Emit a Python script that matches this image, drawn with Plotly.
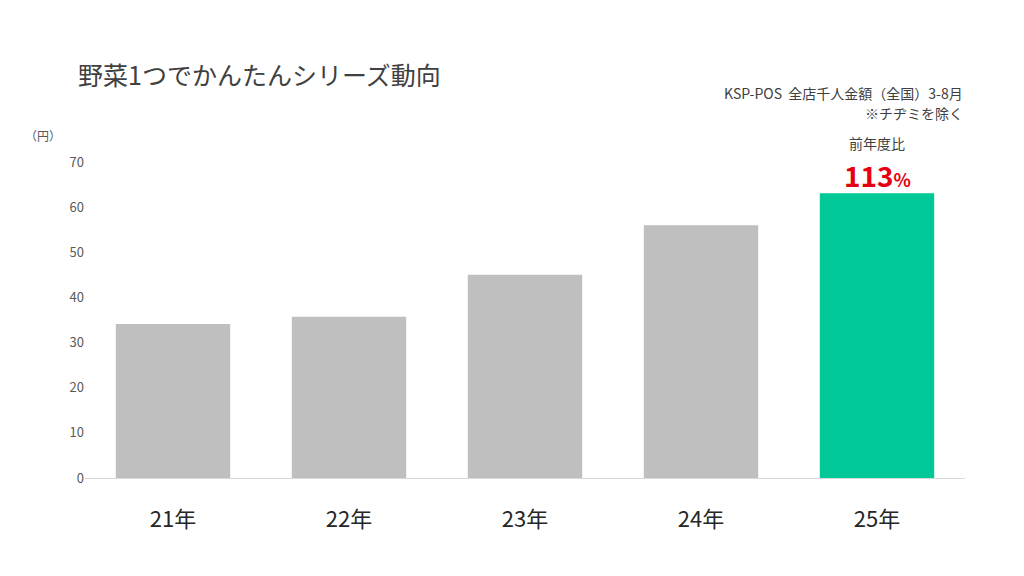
import plotly.graph_objects as go

years = ["21年", "22年", "23年", "24年", "25年"]
values = [34.1, 35.7, 45.0, 56.0, 63.1]
colors = ["#bfbfbf", "#bfbfbf", "#bfbfbf", "#bfbfbf", "#00c896"]
y_ticks = [0, 10, 20, 30, 40, 50, 60, 70]

font_jp = "Noto Sans CJK JP"

fig = go.Figure()
fig.add_trace(go.Bar(x=years, y=values, marker_color=colors, marker_line_width=0))

fig.update_layout(
    width=1024, height=576,
    plot_bgcolor="white", paper_bgcolor="white",
    margin=dict(l=77, r=67, t=154, b=106),
    bargap=0.35,
    showlegend=False,
    font=dict(family=font_jp, color="#404040"),
    xaxis=dict(tickfont=dict(size=22, color="#262626"), showline=True,
               linecolor="#d9d9d9", linewidth=1, ticks="", ticklabelstandoff=22),
    yaxis=dict(range=[0, 70], tickvals=y_ticks, showgrid=False, zeroline=False,
               tickfont=dict(size=13, color="#595959"), ticks=""),
    annotations=[
        dict(text="野菜1つでかんたんシリーズ動向", xref="paper", yref="paper",
             x=-0.01, y=1.0, xanchor="left", yanchor="bottom", yshift=68,
             showarrow=False, font=dict(size=25, color="#404040")),
        dict(text="KSP-POS  全店千人金額（全国）3-8月", xref="paper",
             yref="paper", x=1.0, y=1.0, xanchor="right", yanchor="bottom", yshift=57,
             showarrow=False, font=dict(size=14, color="#404040")),
        dict(text="※チヂミを除く", xref="paper",
             yref="paper", x=1.0, y=1.0, xanchor="right", yanchor="bottom", yshift=37,
             showarrow=False, font=dict(size=14, color="#404040")),
        dict(text="（円）", xref="paper", yref="paper", x=-0.07, y=1.0,
             xanchor="left", yanchor="bottom", yshift=16, showarrow=False,
             font=dict(size=12, color="#595959")),
        dict(text="前年度比", x=years[4], y=values[4], yshift=38, yanchor="bottom",
             showarrow=False, font=dict(size=14, color="#404040")),
        dict(text="<b>113</b><b><span style='font-size:18px'>%</span></b>", x=years[4],
             y=values[4], yshift=-4, yanchor="bottom", showarrow=False,
             font=dict(size=28, color="#e60012")),
    ],
)

fig.write_html("out.html")
